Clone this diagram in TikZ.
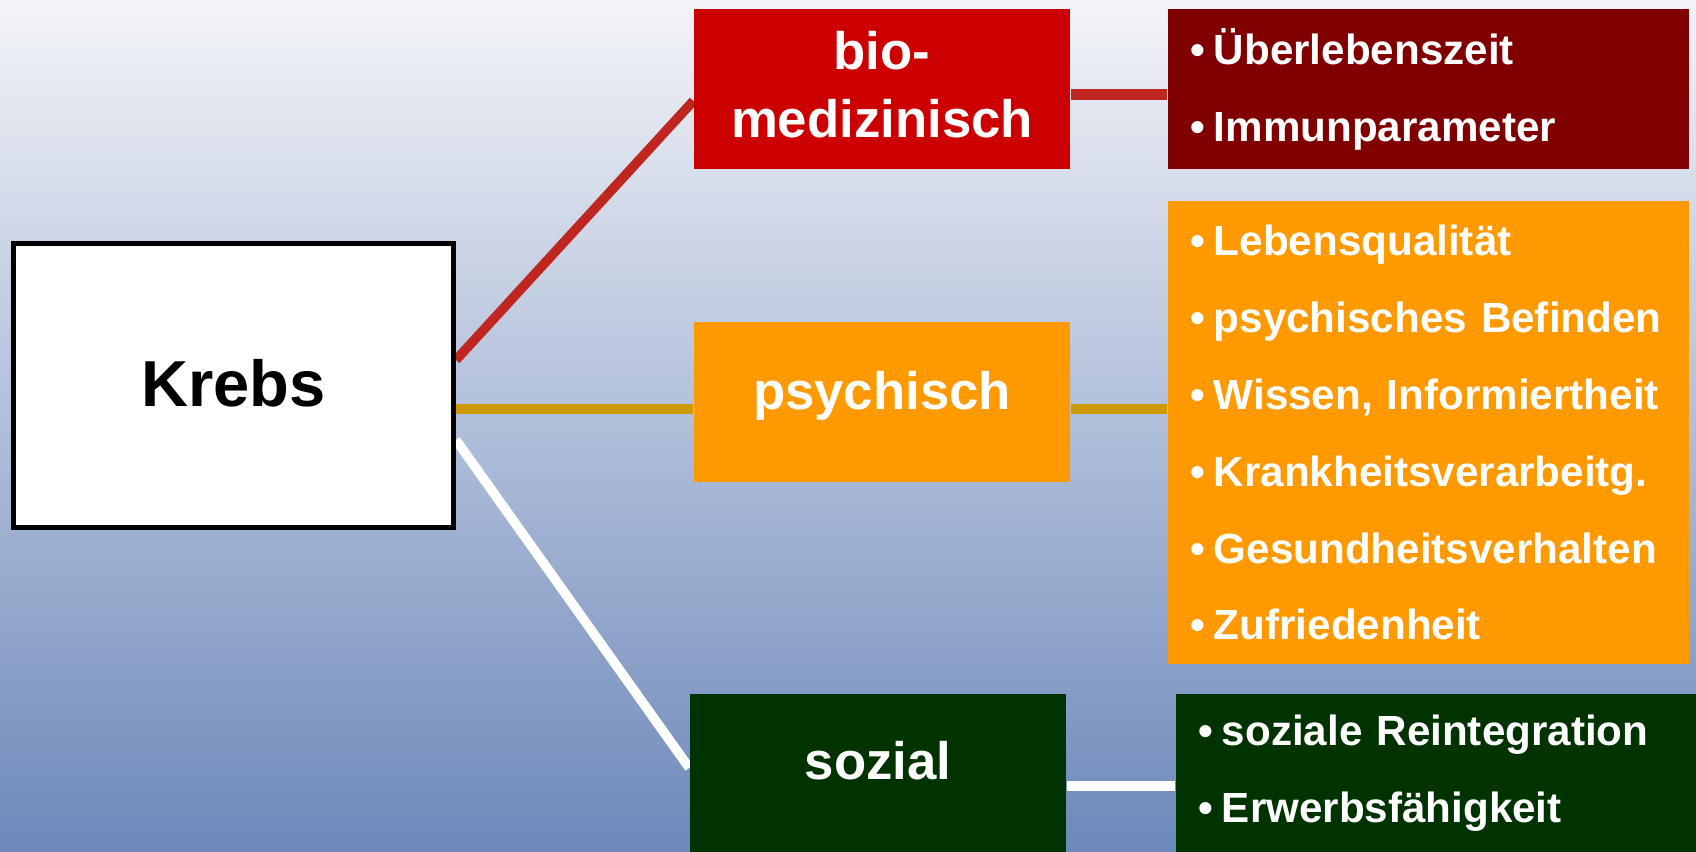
\documentclass[tikz,border=0pt]{standalone}
\usepackage{fontspec}
\setmainfont{Liberation Sans}
\definecolor{bioRot}{RGB}{204,0,0}
\definecolor{dunkelRot}{RGB}{128,0,0}
\definecolor{orangeBox}{RGB}{255,153,0}
\definecolor{gruenBox}{RGB}{0,51,0}
\definecolor{rotLinie}{RGB}{192,38,32}
\definecolor{goldLinie}{RGB}{204,153,0}
\definecolor{fondHaut}{RGB}{243,244,248}
\definecolor{fondBas}{RGB}{108,136,186}
\newcommand{\puce}{•\hspace{2.6pt}}
\pgfdeclarelayer{fond}
\pgfdeclarelayer{lignes}
\pgfsetlayers{fond,lignes,main}
\begin{document}
\begin{tikzpicture}[
    boite/.style={rectangle, minimum width=3.76cm, minimum height=1.6cm, inner sep=0pt,
        text=white, align=center, font=\bfseries\fontsize{15pt}{19.3pt}\selectfont},
    liste/.style={rectangle, minimum width=5.21cm, text width=4.77cm, inner xsep=0.22cm,
        inner ysep=0pt, text=white, align=left, font=\bfseries\fontsize{12pt}{21.9pt}\selectfont},
    trait/.style={line width=0.095cm}]
            \useasboundingbox (0,0) rectangle (16.96,8.52);

            % Fond en degrade
            \begin{pgfonlayer}{fond}
                \shade[top color=fondHaut, bottom color=fondBas] (0,0) rectangle (16.96,8.52);
            \end{pgfonlayer}

            % Boite centrale
            \node[draw=black, line width=1.4pt, fill=white, minimum width=4.40cm, minimum height=2.84cm,
                text depth=0.06cm, font=\bfseries\fontsize{18.5pt}{22pt}\selectfont] (krebs) at (2.335,4.665) {Krebs};

            % Les trois dimensions
            \node[boite, fill=bioRot, text depth=0.1cm] (bio) at (8.82,7.63) {bio-\\medizinisch};
            \node[boite, fill=orangeBox, text depth=0.24cm] (psych) at (8.82,4.495) {psychisch};
            \node[boite, fill=gruenBox, minimum height=1.58cm, text depth=0.26cm] (sozial) at (8.78,0.79) {sozial};

            % Listes des criteres
            \node[liste, fill=dunkelRot, minimum height=1.6cm] (ueber) at (14.285,7.63)
                {\puce Überlebenszeit\\\puce Immunparameter};
            \node[liste, fill=orangeBox, minimum height=4.63cm] (lebens) at (14.285,4.195)
                {\puce Lebensqualität\\\puce psychisches Befinden\\\puce Wissen, Informiertheit\\%
                 \puce Krankheitsverarbeitg.\\\puce Gesundheitsverhalten\\\puce Zufriedenheit};
            \node[liste, fill=gruenBox, minimum height=1.58cm] (reint) at (14.365,0.79)
                {\puce soziale Reintegration\\\puce Erwerbsfähigkeit};

            % Liaisons
            \begin{pgfonlayer}{lignes}
                \draw[trait, rotLinie] ([yshift=2.55mm]krebs.east) -- ([yshift=-1.2mm]bio.west);
                \draw[trait, rotLinie, line width=0.11cm] ([yshift=-0.6mm]bio.east) -- ([yshift=-0.6mm]bio.east -| ueber.west);
                \draw[trait, goldLinie] ([yshift=-2.35mm]krebs.east) -- ([yshift=-2.35mm]krebs.east -| psych.west);
                \draw[trait, goldLinie] ([yshift=-0.65mm]psych.east) -- ([yshift=-0.65mm]psych.east -| lebens.west);
                \draw[trait, white] ([yshift=-5.45mm]krebs.east) -- ([yshift=0.5mm]sozial.west);
                \draw[trait, white] ([yshift=-1.3mm]sozial.east) -- ([yshift=-1.3mm]sozial.east -| reint.west);
            \end{pgfonlayer}
        \end{tikzpicture}
\end{document}
